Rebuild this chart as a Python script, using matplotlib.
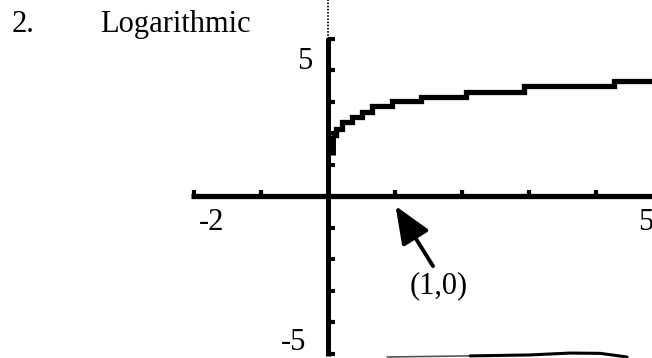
import matplotlib
matplotlib.use("Agg")
import matplotlib.pyplot as plt

# Staircase trace of the logarithmic curve as shown on a calculator screen
step_x = [0.07, 0.13, 0.21, 0.36, 0.51, 0.66, 0.96, 1.40, 2.06, 2.94, 4.27, 4.90]
step_y = [1.95, 2.14, 2.37, 2.51, 2.67, 2.86, 3.02, 3.17, 3.33, 3.51, 3.68, 3.68]
# steep part of the curve just right of the y-axis
stem_x = [0.07, 0.07]
stem_y = [1.32, 1.95]

# axis ranges and tick values
x_min, x_max = -2, 5
y_min, y_max = -5, 5
x_ticks = [-2, -1, 1, 2, 3, 4]
y_ticks = [-5, -4, -3, -2, -1, 1, 2, 3, 4, 5]
x_tick_labels = {-2: "-2", 5: "5"}
y_tick_labels = {5: "5", -5: "-5"}

# marked point and the pen stroke along the bottom
point = (1, 0)
point_label = "(1,0)"
stroke_x = [0.89, 2.13, 3.02, 3.62, 4.07, 4.47]
stroke_y = [-5.095, -5.06, -5.03, -4.97, -4.98, -5.095]

serif = ["Liberation Serif", "DejaVu Serif"]
fs = 22

fig = plt.figure(figsize=(6.52, 3.58), dpi=100)
ax = fig.add_axes([0, 0, 1, 1])
ax.set_xlim(-4.888, 4.843)
ax.set_ylim(-5.127, 6.238)
ax.axis("off")

# axes
ax.plot([x_min - 0.04, x_max + 0.2], [0, 0], color="black", lw=3.8,
        solid_capstyle="butt")
ax.plot([0, 0], [y_min - 0.05, y_max + 0.03], color="black", lw=3.6,
        solid_capstyle="butt")
# dotted continuation above the y-axis
ax.plot([0, 0], [y_max, 6.3], color="black", lw=1.2,
        linestyle=(0, (1.0, 0.9)))

# tick marks
for t in x_ticks:
    ax.plot([t, t], [0, 0.2], color="black", lw=3.0, solid_capstyle="butt")
for t in y_ticks:
    ax.plot([0, 0.105], [t, t], color="black", lw=3.0, solid_capstyle="butt")

# the curve
ax.plot(step_x, step_y, drawstyle="steps-post", color="black", lw=3.8,
        solid_capstyle="butt", solid_joinstyle="miter")
ax.plot(stem_x, stem_y, color="black", lw=5.0, solid_capstyle="butt")

# tick labels
for v, s in x_tick_labels.items():
    dx = 3.6 if v < 0 else -17.6
    ax.annotate(s, xy=(v, 0), xytext=(dx, -8.3), textcoords="offset points",
                ha="left", va="top", fontsize=fs, family=serif,
                annotation_clip=False)
ax.annotate(y_tick_labels[5], xy=(0, 5), xytext=(-10.8, -5.8),
            textcoords="offset points", ha="right", va="top",
            fontsize=fs, family=serif, annotation_clip=False)
ax.annotate(y_tick_labels[-5], xy=(0, -5), xytext=(-15.1, 2.6),
            textcoords="offset points", ha="right", va="baseline",
            fontsize=fs, family=serif, annotation_clip=False)

# arrow pointing at the x-intercept
ax.annotate("", xy=(point[0] + 0.015, point[1] - 0.30),
            xytext=(point[0] + 0.575, point[1] - 2.21),
            arrowprops=dict(arrowstyle="-|>,head_length=2.3,head_width=0.95",
                            mutation_scale=10, lw=2.8, color="black",
                            shrinkA=0, shrinkB=0))
ax.text(point[0] + 0.664, point[1] - 2.84, point_label, ha="center",
        va="center", fontsize=fs, family=serif)

# pen stroke along the bottom
ax.plot(stroke_x[:2], stroke_y[:2], color="#555555", lw=1.2,
        solid_capstyle="round")
ax.plot(stroke_x[1:], stroke_y[1:], color="black", lw=2.2,
        solid_capstyle="round")

# heading
fig.text(12 / 652, 1 - 32 / 358, "2.", ha="left", va="baseline",
         fontsize=fs, family=serif)
fig.text(100 / 652, 1 - 32 / 358, "Logarithmic", ha="left", va="baseline",
         fontsize=fs, family=serif)

fig.savefig("out.png", dpi=100)
